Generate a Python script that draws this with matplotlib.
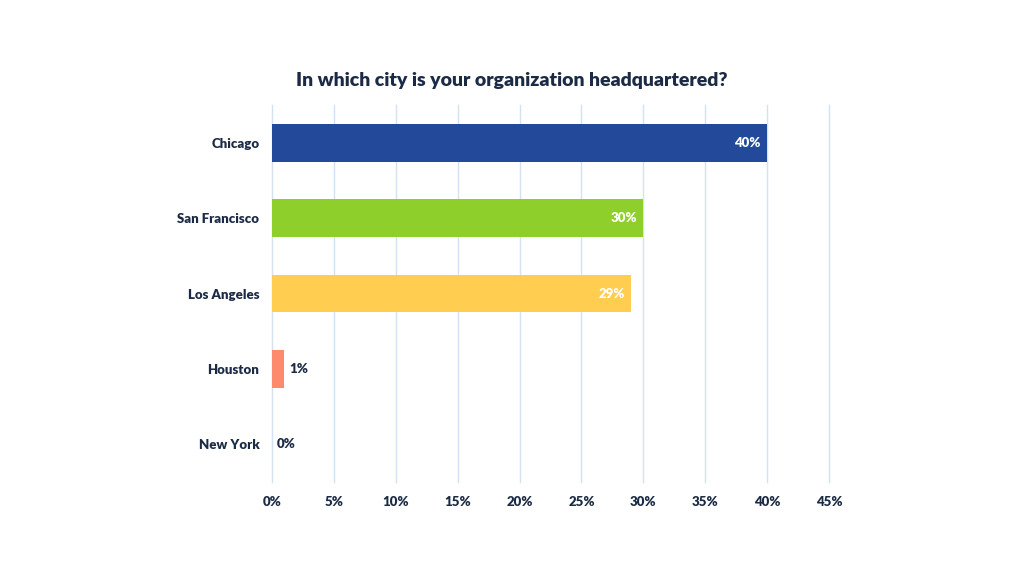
import matplotlib.pyplot as plt
from matplotlib.ticker import FuncFormatter

cities = ['Chicago', 'San Francisco', 'Los Angeles', 'Houston', 'New York']
shares = [40, 30, 29, 1, 0]
colors = ['#234a9a', '#8ecf2b', '#ffcd4f', '#fe8a6d', '#cccccc']
ticks = [0, 5, 10, 15, 20, 25, 30, 35, 40, 45]

navy = '#1c2b45'
plt.rcParams['font.family'] = ['Lato', 'DejaVu Sans']
plt.rcParams['font.weight'] = 'heavy'

fig = plt.figure(figsize=(10.24, 5.76), dpi=100)
ax = fig.add_axes([0.2656, 0.1632, 0.544, 0.6545])

ypos = list(range(len(cities)))
ax.barh(ypos, shares, height=0.5, color=colors, zorder=3)
ax.set_ylim(len(cities) - 0.5, -0.5)
ax.set_xlim(0, 45)
ax.set_xticks(ticks)
ax.xaxis.set_major_formatter(FuncFormatter(lambda v, p: f'{int(v)}%'))
ax.set_yticks(ypos)
ax.set_yticklabels(cities)
ax.tick_params(axis='both', length=0, colors=navy, labelsize=9.5)
ax.tick_params(axis='y', pad=9)
ax.tick_params(axis='x', pad=10)
ax.grid(axis='x', color='#d3e2f1', linewidth=1, zorder=0)
for gl in ax.get_xgridlines():
    gl.set_clip_on(False)
for s in ax.spines.values():
    s.set_visible(False)

for y, v in zip(ypos, shares):
    if v >= 10:
        ax.text(v - 0.5, y, f'{v}%', ha='right', va='center', color='white', fontsize=9.5, fontweight='heavy', zorder=4)
    else:
        ax.text(v + 0.4, y, f'{v}%', ha='left', va='center', color=navy, fontsize=9.5, fontweight='heavy', zorder=4)

fig.text(0.5, 0.86, 'In which city is your organization headquartered?', ha='center', va='center',
         color=navy, fontsize=14, fontweight='heavy')

fig.savefig('out.png', dpi=100, facecolor='white')
